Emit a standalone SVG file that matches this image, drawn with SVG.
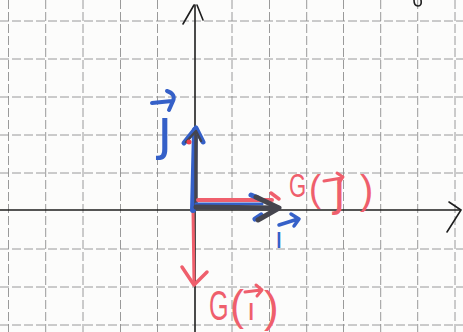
<svg xmlns="http://www.w3.org/2000/svg" width="463" height="332" viewBox="0 0 463 332">
<style>
.grid line{stroke:#8f8f8f;stroke-width:0.9;stroke-dasharray:9 3}
.axis{stroke:#1e1e1e;stroke-width:1.6;fill:none;stroke-linecap:round}
.blue{stroke:#3560c8;fill:none;stroke-linecap:round;stroke-linejoin:round}
.dark{stroke:#45454e;fill:none;stroke-linecap:round;stroke-linejoin:round}
.red{stroke:#ef5f6c;fill:none;stroke-linecap:round;stroke-linejoin:round}
.lbl{font-family:"DejaVu Sans",sans-serif}
.ls{font-family:"Liberation Sans",Arial,sans-serif}
.tr{fill:#ef5f6c}
.tb{fill:#3560c8}
</style>
<rect width="463" height="332" fill="#fcfcfb"/>
<g class="grid" id="grid">
<line x1="8.5" y1="0" x2="8.5" y2="332"/>
<line x1="45.7" y1="0" x2="45.7" y2="332"/>
<line x1="83" y1="0" x2="83" y2="332"/>
<line x1="120.5" y1="0" x2="120.5" y2="332"/>
<line x1="157.5" y1="0" x2="157.5" y2="332"/>
<line x1="232" y1="0" x2="232" y2="332"/>
<line x1="269.5" y1="0" x2="269.5" y2="332"/>
<line x1="306.7" y1="0" x2="306.7" y2="332"/>
<line x1="343.5" y1="0" x2="343.5" y2="332"/>
<line x1="380.7" y1="0" x2="380.7" y2="332"/>
<line x1="417.7" y1="0" x2="417.7" y2="332"/>
<line x1="455" y1="0" x2="455" y2="332"/>
<line x1="0" y1="21" x2="463" y2="21"/>
<line x1="0" y1="59" x2="463" y2="59"/>
<line x1="0" y1="97" x2="463" y2="97"/>
<line x1="0" y1="135" x2="463" y2="135"/>
<line x1="0" y1="173" x2="463" y2="173"/>
<line x1="0" y1="249" x2="463" y2="249"/>
<line x1="0" y1="287" x2="463" y2="287"/>
<line x1="0" y1="325" x2="463" y2="325"/>
</g>
<g id="axes">
<line class="axis" x1="195" y1="5" x2="195" y2="332"/>
<path class="axis" d="M183,24 L194,5 M197,5 L203,20"/>
<line class="axis" x1="0" y1="210" x2="460" y2="210"/>
<path class="axis" d="M449,202 L461,210 L447,232"/>
<path class="axis" d="M414,0 Q414,6 418,6 Q422,6 421,0" stroke-width="1.2"/>
</g>
<g id="connectors">
<g id="vec-Gi">
<line class="red" x1="193" y1="210" x2="194" y2="284" stroke-width="3"/>
<path class="red" d="M182,267 Q188,276 194,285 L207,272" stroke-width="3.5"/>
</g>
<g id="vec-j">
<path class="blue" d="M193,210 L195,130" stroke-width="6"/>
<path class="dark" d="M196,208 L196,131" stroke-width="3.5"/>
<path class="blue" d="M184,143 L196,128 L203,142" stroke-width="5"/>
<path class="dark" d="M186,142 L196,131 L201,141" stroke-width="2.5"/>
<circle cx="189" cy="142" r="2.5" fill="#ef3f4c"/>
</g>
<g id="vec-Gj">
<line class="red" x1="198" y1="200" x2="272" y2="200" stroke-width="4"/>
<path class="red" d="M271,193 L279,199" stroke-width="3.5"/>
</g>
<g id="vec-i">
<line class="blue" x1="196" y1="204" x2="262" y2="204" stroke-width="3"/>
<line class="dark" x1="196" y1="207" x2="278" y2="208" stroke-width="5"/>
<path class="blue" d="M251,195 L258,198 M255,219 L261,215" stroke-width="5"/>
<path class="dark" d="M256,197 L279,208 L258,220" stroke-width="5"/>
</g>
</g>
<g id="label-j">
<text class="lbl tb" x="157" y="148" font-size="56">ȷ</text>
<path class="blue" d="M152,103 L172,101 M167,91 Q176,94 173,101 L169,110" stroke-width="4"/>
</g>
<g id="label-i">
<text class="lbl tb" x="275" y="248" font-size="28">ı</text>
<path class="blue" d="M279,225 L298,219 M291,214 L299,219 L294,226" stroke-width="3.5"/>
</g>
<g id="label-Gj">
<text class="ls tr" transform="translate(289,197) scale(0.65,1)" font-size="34">G</text>
<text class="ls tr" x="309" y="201" font-size="36">(</text>
<text class="lbl tr" x="333" y="205" font-size="46">ȷ</text>
<text class="ls tr" x="360" y="204" font-size="40">)</text>
<path class="red" d="M324,181 L342,178 M337,173 L343,177 L339,183" stroke-width="3"/>
</g>
<g id="label-Gi">
<text class="ls tr" transform="translate(209,320) scale(0.6,1)" font-size="42">G</text>
<text class="ls tr" x="230" y="320" font-size="42">(</text>
<text class="lbl tr" x="247" y="320" font-size="30">ı</text>
<text class="ls tr" x="264" y="322" font-size="44">)</text>
<path class="red" d="M245,292 L261,290 M256,285 L262,290 L257,296" stroke-width="3"/>
</g>
</svg>
